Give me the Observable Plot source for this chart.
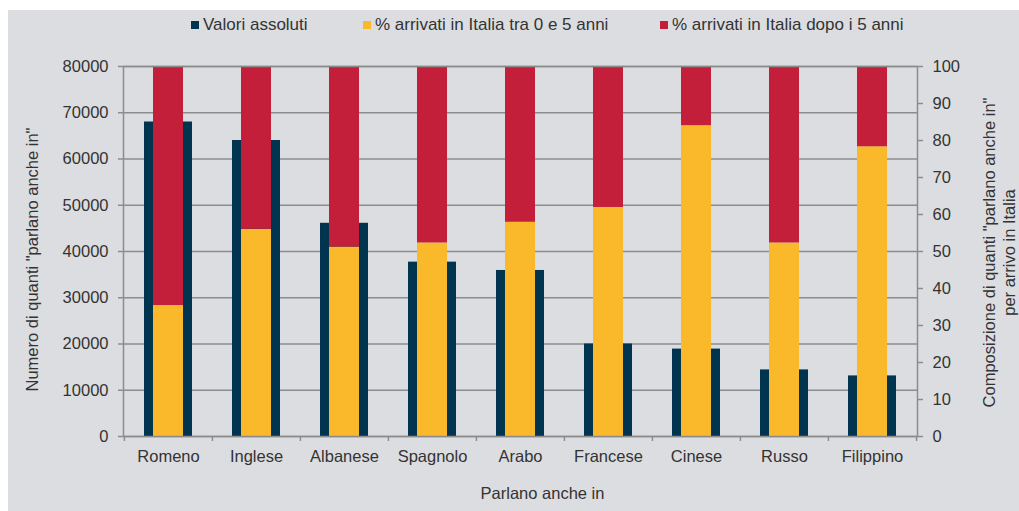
<!DOCTYPE html>
<html><head><meta charset="utf-8">
<script src="https://cdn.jsdelivr.net/npm/d3@7"></script>
<script src="https://cdn.jsdelivr.net/npm/@observablehq/plot@0.6"></script>
<style>
html,body{margin:0;padding:0;background:#fff;width:1019px;height:511px;overflow:hidden;font-family:"Liberation Sans",Arial,sans-serif;}
#panel{position:absolute;left:8px;top:10px;width:1011px;height:501px;background:#dcdde0;}
#chart{position:absolute;left:0;top:0;}
.leg{position:absolute;top:14px;font-size:17px;color:#333;white-space:nowrap;line-height:22px;}
.sw{position:absolute;width:8px;height:8px;top:21px;}
</style></head><body>
<div id="panel"></div>
<div id="legend"></div>
<div id="chart"></div>
<script>
const lingue = ["Romeno","Inglese","Albanese","Spagnolo","Arabo","Francese","Cinese","Russo","Filippino"];
const valoriAssoluti = [68000, 64000, 46100, 37700, 35900, 20000, 18900, 14400, 13100];
const pct0_5 = [35.4, 56.0, 51.2, 52.3, 57.9, 61.9, 84.0, 52.3, 78.3];
const pctDopo5 = [64.6, 44.0, 48.8, 47.7, 42.1, 38.1, 16.0, 47.7, 21.7];
const leftTicks = [0, 10000, 20000, 30000, 40000, 50000, 60000, 70000, 80000];
const rightTicks = [0, 10, 20, 30, 40, 50, 60, 70, 80, 90, 100];
const legendLabels = ["Valori assoluti", "% arrivati in Italia tra 0 e 5 anni", "% arrivati in Italia dopo i 5 anni"];
const seriesKeys = ["tra0e5", "dopo5"];
const colori = ["#00344f", "#f9b92b", "#c41f3a"];
const yTitleLeft = "Numero di quanti \"parlano anche in\"";
const yTitleRight = "Composizione di quanti \"parlano anche in\"\nper arrivo in Italia";
const xTitle = "Parlano anche in";

// scale factor: right axis 0..100 drawn on left scale 0..80000
const k = 80000 / 100;

const absRows = lingue.map((l, i) => ({lingua: l, valore: valoriAssoluti[i]}));
const pctRows = lingue.flatMap((l, i) => [
  {lingua: l, serie: seriesKeys[0], pct: pct0_5[i]},
  {lingua: l, serie: seriesKeys[1], pct: pctDopo5[i]}
]);

// legend
const legend = document.getElementById("legend");
const legPos = [[191, 203], [363, 375], [660, 672]];
legendLabels.forEach((t, i) => {
  const sw = document.createElement("div");
  sw.className = "sw"; sw.style.left = legPos[i][0] + "px"; sw.style.background = colori[i];
  legend.appendChild(sw);
  const tx = document.createElement("div");
  tx.className = "leg"; tx.style.left = legPos[i][1] + "px"; tx.textContent = t;
  legend.appendChild(tx);
});

const fs = 16.5;
const chart = Plot.plot({
  width: 1019,
  height: 511,
  marginLeft: 123,
  marginRight: 102,
  marginTop: 66,
  marginBottom: 75,
  style: {background: "transparent", fontFamily: "'Liberation Sans', Arial, sans-serif", fontSize: fs + "px", color: "#333", overflow: "visible"},
  x: {domain: lingue, padding: 0},
  y: {domain: [0, 80000]},
  color: {domain: seriesKeys, range: [colori[1], colori[2]]},
  marks: [
    Plot.gridY(leftTicks, {stroke: "#8c8c8c", strokeOpacity: 1, strokeWidth: 1.5}),
    Plot.barY(absRows, {x: "lingua", y: "valore", fill: colori[0], insetLeft: 20, insetRight: 20}),
    Plot.barY(pctRows, Plot.stackY({x: "lingua", y: d => d.pct * k, fill: "serie", order: null, insetLeft: 29, insetRight: 29})),
    Plot.frame({stroke: "#8c8c8c", strokeWidth: 1.5}),
    Plot.axisY(leftTicks, {anchor: "left", tickSize: 5, tickPadding: 10, tickFormat: d => String(d), label: null, stroke: "#8c8c8c", strokeWidth: 1.5, fill: "#333", fontSize: fs}),
    Plot.axisY(rightTicks.map(t => t * k), {anchor: "right", tickSize: 5, tickPadding: 10, tickFormat: d => String(Math.round(d / k)), label: null, stroke: "#8c8c8c", strokeWidth: 1.5, fill: "#333", fontSize: fs}),
    Plot.axisX({tickSize: 0, tickPadding: 14, label: null, fill: "#333", fontSize: fs}),
    Plot.axisX(lingue, {tickSize: 5, fill: "none", dx: -44.1, label: null, stroke: "#8c8c8c", strokeWidth: 1.5}),
    Plot.axisX([lingue[lingue.length - 1]], {tickSize: 5, fill: "none", dx: 44.1, label: null, stroke: "#8c8c8c", strokeWidth: 1.5}),
    Plot.text([yTitleLeft], {text: d => d, frameAnchor: "left", dx: -91, dy: 8, rotate: -90, textAnchor: "middle", lineAnchor: "middle", fill: "#333", fontSize: fs}),
    Plot.text([yTitleRight], {text: d => d, frameAnchor: "right", dx: 81, dy: 1, rotate: -90, textAnchor: "middle", lineAnchor: "middle", lineHeight: 1.2, fill: "#333", fontSize: fs}),
    Plot.text([xTitle], {text: d => d, frameAnchor: "bottom", dx: 22, dy: 57, textAnchor: "middle", lineAnchor: "middle", fill: "#333", fontSize: fs})
  ]
});
document.getElementById("chart").appendChild(chart);
</script>
</body></html>
